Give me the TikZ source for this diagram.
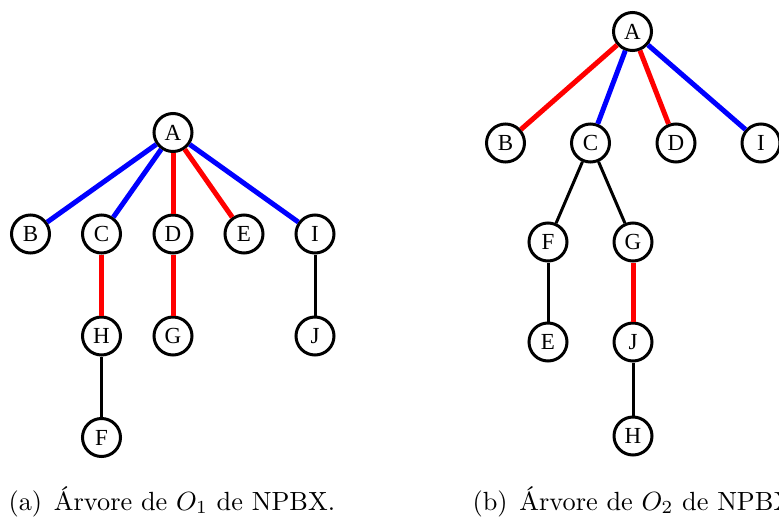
\documentclass[tikz,border=0pt]{standalone}
\usepackage{fontspec}
\newfontfamily\labelfont{Liberation Serif}
\begin{document}
\begin{tikzpicture}[x=1pt,y=-1pt,
  vtx/.style={circle,draw=black,line width=3pt,fill=white,minimum size=38pt,
    inner sep=0pt,font=\labelfont\fontsize{23}{23}\selectfont},
  redge/.style={draw=red,line width=5pt},
  bedge/.style={draw=blue,line width=5pt},
  kedge/.style={draw=black,line width=3pt},
  captext/.style={anchor=base west,inner sep=0pt,scale=2.63}
]
\useasboundingbox (0,0) rectangle (779,522);

% tree (a)
\node[vtx] (aA) at (173,132.5) {A};
\node[vtx] (aB) at (30.5,234) {B};
\node[vtx] (aC) at (101.5,234) {C};
\node[vtx] (aD) at (173,234) {D};
\node[vtx] (aE) at (244,234) {E};
\node[vtx] (aI) at (315,234) {I};
\node[vtx] (aH) at (101.5,336) {H};
\node[vtx] (aG) at (173,336) {G};
\node[vtx] (aJ) at (315,336) {J};
\node[vtx] (aF) at (101.5,437.5) {F};

\draw[bedge] (aA) -- (aB);
\draw[bedge] (aA) -- (aC);
\draw[redge] (aA) -- (aD);
\draw[redge] (aA) -- (aE);
\draw[bedge] (aA) -- (aI);
\draw[redge] (aC) -- (aH);
\draw[redge] (aD) -- (aG);
\draw[kedge] (aI) -- (aJ);
\draw[kedge] (aH) -- (aF);

% tree (b)
\node[vtx] (bA) at (632.5,31.5) {A};
\node[vtx] (bB) at (505.5,143) {B};
\node[vtx] (bC) at (590.5,143) {C};
\node[vtx] (bD) at (676,143) {D};
\node[vtx] (bI) at (761,143) {I};
\node[vtx] (bF) at (548,242) {F};
\node[vtx] (bG) at (633,242) {G};
\node[vtx] (bE) at (548,342) {E};
\node[vtx] (bJ) at (633,342) {J};
\node[vtx] (bH) at (633,436) {H};

\draw[redge] (bA) -- (bB);
\draw[bedge] (bA) -- (bC);
\draw[redge] (bA) -- (bD);
\draw[bedge] (bA) -- (bI);
\draw[kedge] (bC) -- (bF);
\draw[kedge] (bC) -- (bG);
\draw[kedge] (bF) -- (bE);
\draw[redge] (bG) -- (bJ);
\draw[kedge] (bJ) -- (bH);

% captions
\node[captext] (capa) at (8,510) {(a)\hspace{0.45em}Árvore de $O_1$ de NPBX.};
\node[captext] (capb) at (472,510) {(b)\hspace{0.45em}Árvore de $O_2$ de NPBX.};
\end{tikzpicture}
\end{document}
